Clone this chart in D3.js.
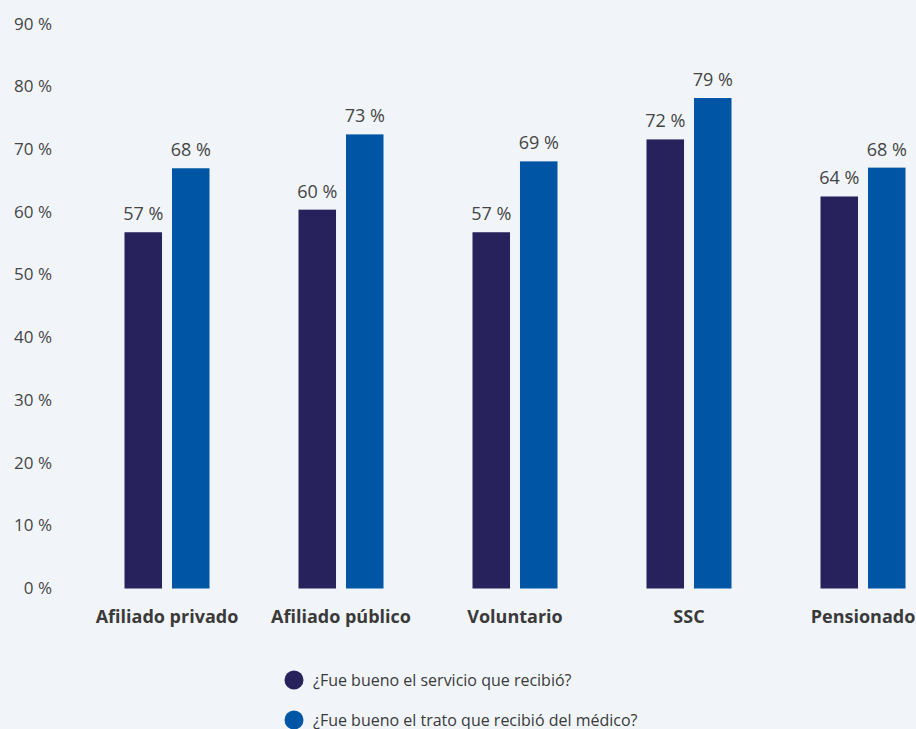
<!DOCTYPE html>
<html lang="es">
<head>
<meta charset="UTF-8">
<script src="https://d3js.org/d3.v7.min.js"></script>
<style>
  html, body { margin: 0; padding: 0; background: #f1f5f9; }
  svg { display: block; font-family: "Open Sans", "Noto Sans", sans-serif; }
</style>
</head>
<body>
<svg id="chart" width="916" height="729"></svg>
<script>
// categories and series
var categories = ['Afiliado privado', 'Afiliado público', 'Voluntario', 'SSC', 'Pensionado'];
var seriesNames = ['¿Fue bueno el servicio que recibió?', '¿Fue bueno el trato que recibió del médico?'];
// bar heights
var servicio = [56.8, 60.4, 56.8, 71.6, 62.5];
var trato = [67.0, 72.4, 68.1, 78.2, 67.1];
// printed value labels
var servicioLabels = [57, 60, 57, 72, 64];
var tratoLabels = [68, 73, 69, 79, 68];
var yTicks = [0, 10, 20, 30, 40, 50, 60, 70, 80, 90];

var colors = ['#27225b', '#0056a5'];

var svg = d3.select('#chart');

var data = categories.map(function(c, i){
    return {
        cat: c,
        values: [
            { v: servicio[i], label: servicioLabels[i] },
            { v: trato[i], label: tratoLabels[i] }
        ]
    };
});

var y = d3.scaleLinear()
    .domain([0, 90])
    .range([588.5, 24]);

var x0 = d3.scaleBand()
    .domain(categories)
    .range([80, 950])
    .paddingInner(0.5)
    .paddingOuter(0.25);

// bars ~37px wide with a 10px gap
var x1 = d3.scaleBand()
    .domain([0, 1])
    .range([0, 85])
    .paddingInner(0.21);

var groupOffset = function(cat){
    return x0(cat) + x0.bandwidth() / 2 - 42.5;
};

// y axis labels only
var yAxis = d3.axisLeft(y)
    .tickValues(yTicks)
    .tickSize(0)
    .tickPadding(0)
    .tickFormat(function(d){ return d + ' %'; });

var gy = svg.append('g')
    .attr('transform', 'translate(52,0)')
    .call(yAxis);
gy.select('.domain').remove();
gy.selectAll('text')
    .attr('font-size', 17)
    .attr('font-family', '"Open Sans", sans-serif')
    .attr('fill', '#454545')
    .attr('dy', '0.3em');

// bars
var groups = svg.selectAll('.grp')
    .data(data)
    .enter().append('g')
    .attr('class', 'grp')
    .attr('transform', function(d){ return 'translate(' + groupOffset(d.cat) + ',0)'; });

groups.selectAll('rect')
    .data(function(d){ return d.values; })
    .enter().append('rect')
    .attr('x', function(d, i){ return x1(i); })
    .attr('y', function(d){ return y(d.v); })
    .attr('width', x1.bandwidth())
    .attr('height', function(d){ return y(0) - y(d.v); })
    .attr('fill', function(d, i){ return colors[i]; });

groups.selectAll('text.val')
    .data(function(d){ return d.values; })
    .enter().append('text')
    .attr('class', 'val')
    .attr('x', function(d, i){ return x1(i) + x1.bandwidth() / 2; })
    .attr('y', function(d){ return y(d.v) - 12; })
    .attr('text-anchor', 'middle')
    .attr('font-size', 18)
    .attr('fill', '#454545')
    .text(function(d){ return d.label + ' %'; });

// x axis labels
var xAxis = d3.axisBottom(x0).tickSize(0).tickPadding(0);
var gx = svg.append('g')
    .attr('transform', 'translate(0,' + (y(0) + 28) + ')')
    .call(xAxis);
gx.select('.domain').remove();
gx.selectAll('text')
    .attr('font-size', 18)
    .attr('font-weight', 'bold')
    .attr('font-family', '"Open Sans", sans-serif')
    .attr('fill', '#3a3a3a')
    .attr('dy', '0.35em');

// legend
var legend = svg.selectAll('.legend')
    .data(seriesNames)
    .enter().append('g')
    .attr('class', 'legend')
    .attr('transform', function(d, i){ return 'translate(294,' + (680 + i * 40) + ')'; });

legend.append('circle')
    .attr('r', 9.5)
    .attr('fill', function(d, i){ return colors[i]; });

legend.append('text')
    .attr('x', 19)
    .attr('dy', '0.35em')
    .attr('font-size', 16)
    .attr('fill', '#3a3a3a')
    .text(function(d){ return d; });
</script>
</body>
</html>
